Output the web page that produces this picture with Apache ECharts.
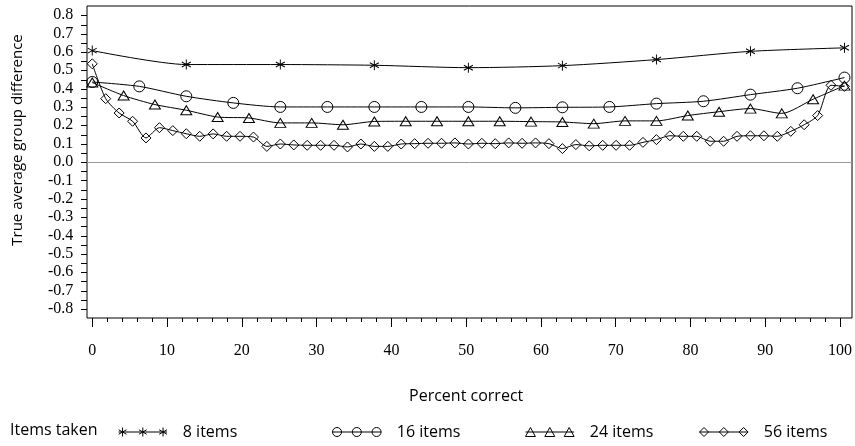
<!DOCTYPE html>
<html><head><meta charset="utf-8">
<script src="https://cdn.jsdelivr.net/npm/echarts@6/dist/echarts.min.js"></script>
<style>html,body{margin:0;padding:0;background:#fff}#c{width:855px;height:446px}</style>
</head><body><div id="c"></div>
<script>
// Percent correct positions (k / n items)
const x8 = [0, 12.5, 25, 37.5, 50, 62.5, 75, 87.5, 100];
const x16 = [0, 6.25, 12.5, 18.75, 25, 31.25, 37.5, 43.75, 50, 56.25, 62.5, 68.75, 75, 81.25, 87.5, 93.75, 100];
const x24 = [0, 4.17, 8.33, 12.5, 16.67, 20.83, 25, 29.17, 33.33, 37.5, 41.67, 45.83, 50, 54.17, 58.33, 62.5, 66.67, 70.83, 75, 79.17, 83.33, 87.5, 91.67, 95.83, 100];
const x56 = [0, 1.79, 3.57, 5.36, 7.14, 8.93, 10.71, 12.5, 14.29, 16.07, 17.86, 19.64, 21.43, 23.21, 25, 26.79, 28.57, 30.36, 32.14, 33.93, 35.71, 37.5, 39.29, 41.07, 42.86, 44.64, 46.43, 48.21, 50, 51.79, 53.57, 55.36, 57.14, 58.93, 60.71, 62.5, 64.29, 66.07, 67.86, 69.64, 71.43, 73.21, 75, 76.79, 78.57, 80.36, 82.14, 83.93, 85.71, 87.5, 89.29, 91.07, 92.86, 94.64, 96.43, 98.21, 100];

// True average group difference
const y8 = [0.607, 0.531, 0.531, 0.527, 0.514, 0.525, 0.558, 0.603, 0.622];
const y16 = [0.436, 0.412, 0.358, 0.322, 0.300, 0.300, 0.300, 0.300, 0.300, 0.295, 0.298, 0.300, 0.318, 0.331, 0.367, 0.402, 0.460];
const y24 = [0.433, 0.362, 0.313, 0.282, 0.245, 0.240, 0.213, 0.213, 0.203, 0.221, 0.222, 0.222, 0.222, 0.222, 0.220, 0.218, 0.209, 0.224, 0.224, 0.253, 0.274, 0.291, 0.265, 0.342, 0.416];
const y56 = [0.535, 0.345, 0.267, 0.222, 0.131, 0.187, 0.171, 0.154, 0.140, 0.153, 0.140, 0.140, 0.136, 0.085, 0.098, 0.093, 0.091, 0.091, 0.091, 0.082, 0.098, 0.085, 0.085, 0.098, 0.100, 0.102, 0.102, 0.104, 0.098, 0.102, 0.100, 0.104, 0.102, 0.104, 0.100, 0.073, 0.095, 0.088, 0.091, 0.091, 0.091, 0.107, 0.122, 0.143, 0.140, 0.140, 0.113, 0.113, 0.140, 0.143, 0.143, 0.140, 0.167, 0.203, 0.253, 0.418, 0.412];

const seriesNames = ['8 items', '16 items', '24 items', '56 items'];
const legendTitle = 'Items taken';
const xTitle = 'Percent correct';
const yTitle = 'True average group difference';
const zeroLine = 0;

const SERIF = 'Liberation Serif';
const SANS = 'Open Sans';

const pair = (xs, ys) => xs.map((x, i) => [x, ys[i]]);

const starSym = 'path://M0,-5L0,5M-4.33,-2.5L4.33,2.5M-4.33,2.5L4.33,-2.5';
const diamondSym = 'path://M0,-5L5,0L0,5L-5,0Z';

function starIcon() {
  let p = 'path://M0,5L54,5';
  [4.5, 27, 49.5].forEach(c => {
    p += `M${c},0L${c},10M${c-4.33},2.5L${c+4.33},7.5M${c-4.33},7.5L${c+4.33},2.5`;
  });
  return p;
}
function circleIcon() {
  let p = 'path://M0,5L54,5';
  [5, 27, 49].forEach(c => {
    p += `M${c+5},5A5,5,0,1,1,${c-5},5A5,5,0,1,1,${c+5},5Z`;
  });
  return p;
}
function triIcon() {
  let p = 'path://M0,5L54,5';
  [5.5, 27, 48.5].forEach(c => {
    p += `M${c},0L${c+5.5},10L${c-5.5},10Z`;
  });
  return p;
}
function diaIcon() {
  let p = 'path://M0,5L54,5';
  [5, 27, 49].forEach(c => {
    p += `M${c},0L${c+5},5L${c},10L${c-5},5Z`;
  });
  return p;
}
const icons = [starIcon(), circleIcon(), triIcon(), diaIcon()];
const legendLefts = [118, 332, 525, 699];

const markerStyle = { color: 'rgba(0,0,0,0)', borderColor: '#000', borderWidth: 1 };
function mkSeries(name, data, symbol, size, extra) {
  return Object.assign({
    name, type: 'line', xAxisIndex: 0, yAxisIndex: 0, data,
    symbol, symbolSize: size, showAllSymbol: true, smooth: 0.25,
    lineStyle: { color: '#000', width: 1 },
    itemStyle: markerStyle,
    emphasis: { disabled: true }, silent: true, animation: false, z: 3
  }, extra || {});
}

const chart = echarts.init(document.getElementById('c'), null, { renderer: 'canvas' });
chart.setOption({
  animation: false,
  title: {
    text: legendTitle, left: 10, top: 422, padding: 0,
    textStyle: { fontFamily: SANS, fontSize: 16, fontWeight: 'normal', color: '#000' }
  },
  legend: seriesNames.map((n, i) => ({
    data: [{ name: n, icon: icons[i] }],
    left: legendLefts[i], top: 424, padding: 0,
    itemWidth: 54, itemHeight: 9, selectedMode: false,
    itemStyle: { color: 'rgba(0,0,0,0)', borderColor: '#000', borderWidth: 1 },
    textStyle: { fontFamily: SANS, fontSize: 16, color: '#000', padding: [0, 0, 0, 8] }
  })),
  grid: [
    // plot frame and data
    { left: 87, right: 3, top: 6, bottom: 128, show: true, borderColor: '#000', borderWidth: 1 },
    // x tick axis (0..100) + y labels
    { left: 92.3, right: 10, top: 6, bottom: 128, show: false },
    // y tick strip (-0.8..0.8), 6px wide just left of the frame
    { left: 81, width: 6, top: 15.7, bottom: 136.9, show: false }
  ],
  xAxis: [
    { gridIndex: 0, type: 'value', min: -0.7, max: 101, show: false,
      axisLine: { show: false, onZero: false }, splitLine: { show: false } },
    { gridIndex: 1, type: 'value', min: 0, max: 100, interval: 10, position: 'bottom',
      axisLine: { show: false, onZero: false },
      axisTick: { show: true, length: 9, lineStyle: { color: '#000', width: 1 } },
      minorTick: { show: true, splitNumber: 5, length: 4, lineStyle: { color: '#000', width: 1 } },
      splitLine: { show: false }, minorSplitLine: { show: false },
      axisLabel: { margin: 25, fontFamily: SERIF, fontSize: 16, color: '#000' },
      name: xTitle, nameLocation: 'middle', nameGap: 70,
      nameTextStyle: { fontFamily: SANS, fontSize: 16, color: '#000' } },
    { gridIndex: 2, type: 'value', min: 0, max: 1, show: false,
      axisLine: { show: false, onZero: false } }
  ],
  yAxis: [
    { gridIndex: 0, type: 'value', min: -0.85, max: 0.85, show: false,
      axisLine: { show: false, onZero: false }, splitLine: { show: false } },
    { gridIndex: 1, type: 'value', min: -0.85, max: 0.85, interval: 0.05, position: 'left',
      axisLine: { show: false, onZero: false }, axisTick: { show: false }, splitLine: { show: false },
      axisLabel: {
        margin: 19, fontFamily: SERIF, fontSize: 16, color: '#000',
        formatter: v => {
          const t = v * 10;
          if (Math.abs(t - Math.round(t)) > 1e-6 || Math.abs(v) > 0.8 + 1e-6) return '';
          return (Math.round(t) / 10).toFixed(1);
        }
      },
      name: yTitle, nameLocation: 'middle', nameRotate: 90, nameGap: 67,
      nameTextStyle: { fontFamily: SANS, fontSize: 15, color: '#000', padding: [0, 0, 0, 44] } },
    { gridIndex: 2, type: 'value', min: -0.8, max: 0.8, interval: 0.05,
      axisLine: { show: false }, axisTick: { show: false }, axisLabel: { show: false },
      splitLine: { show: true, lineStyle: { color: '#000', width: 1 } } }
  ],
  series: [
    mkSeries(seriesNames[0], pair(x8, y8), starSym, [9, 10], {
      markLine: { silent: true, symbol: 'none', label: { show: false },
        lineStyle: { color: '#999', width: 1, type: 'solid' },
        data: [{ yAxis: zeroLine }], animation: false }
    }),
    mkSeries(seriesNames[1], pair(x16, y16), 'circle', 11),
    mkSeries(seriesNames[2], pair(x24, y24), 'triangle', [11, 9]),
    mkSeries(seriesNames[3], pair(x56, y56), diamondSym, [10, 10])
  ]
});
</script></body></html>
